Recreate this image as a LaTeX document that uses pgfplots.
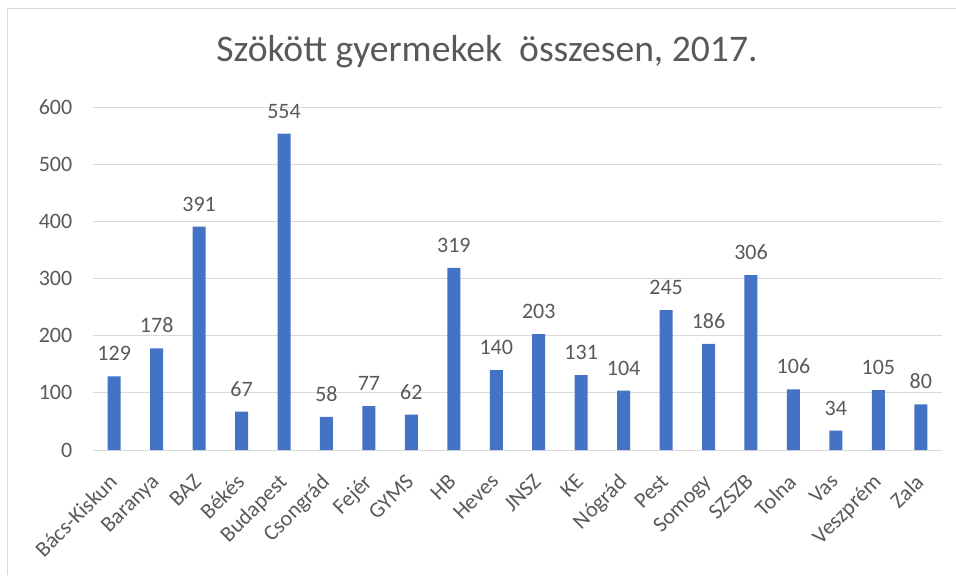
\documentclass[border=0pt]{standalone}
\usepackage{pgfplots}
\pgfplotsset{compat=1.18}
\usepackage{fontspec}
\setmainfont{Carlito}
\definecolor{barblue}{HTML}{4472C4}
\definecolor{txt}{HTML}{595959}
\definecolor{gridc}{HTML}{D9D9D9}
\pgfplotstableread{
x y
0 129
1 178
2 391
3 67
4 554
5 58
6 77
7 62
8 319
9 140
10 203
11 131
12 104
13 245
14 186
15 306
16 106
17 34
18 105
19 80
}\datatable
\begin{document}
\begin{tikzpicture}[x=0.75pt,y=0.75pt]
\useasboundingbox (-93,-125) rectangle (863,450);
\draw[gridc, line width=0.75pt] (-85,-125) -- (-85,441) -- (863,441);
\begin{axis}[
  at={(0,0)}, anchor=south west,
  scale only axis, width=636.75pt, height=257pt,
  ybar, bar width=9.75pt,
  xmin=-0.5, xmax=19.5, ymin=0, ymax=600,
  ytick={0,100,...,600},
  xtick=data,
  xticklabels={Bács-Kiskun,Baranya,BAZ,Békés,Budapest,Csongrád,Fejér,GYMS,HB,Heves,JNSZ,KE,Nógrád,Pest,Somogy,SZSZB,Tolna,Vas,Veszprém,Zala},
  /pgf/number format/assume math mode=true,
  ymajorgrids, grid style={color=gridc, line width=0.75pt},
  axis line style={draw=none},
  major tick length=0pt,
  tick label style={font=\fontsize{16.5}{19}\selectfont, color=txt},
  yticklabel style={xshift=-12pt},
  xticklabel style={xshift=-5pt, yshift=-15.5pt, rotate=45, anchor=north east, inner sep=1pt},
  nodes near coords,
  nodes near coords style={font=\fontsize{16.5}{19}\selectfont, color=txt, yshift=8pt},
  clip=false,
]
\addplot[fill=barblue, draw=none] table[x=x, y=y] {\datatable};
\end{axis}
\node[anchor=base, text=txt, font=\fontsize{28.2}{33}\selectfont] at (394,388) {Szökött gyermekek\ \ összesen, 2017.};
\end{tikzpicture}
\end{document}
